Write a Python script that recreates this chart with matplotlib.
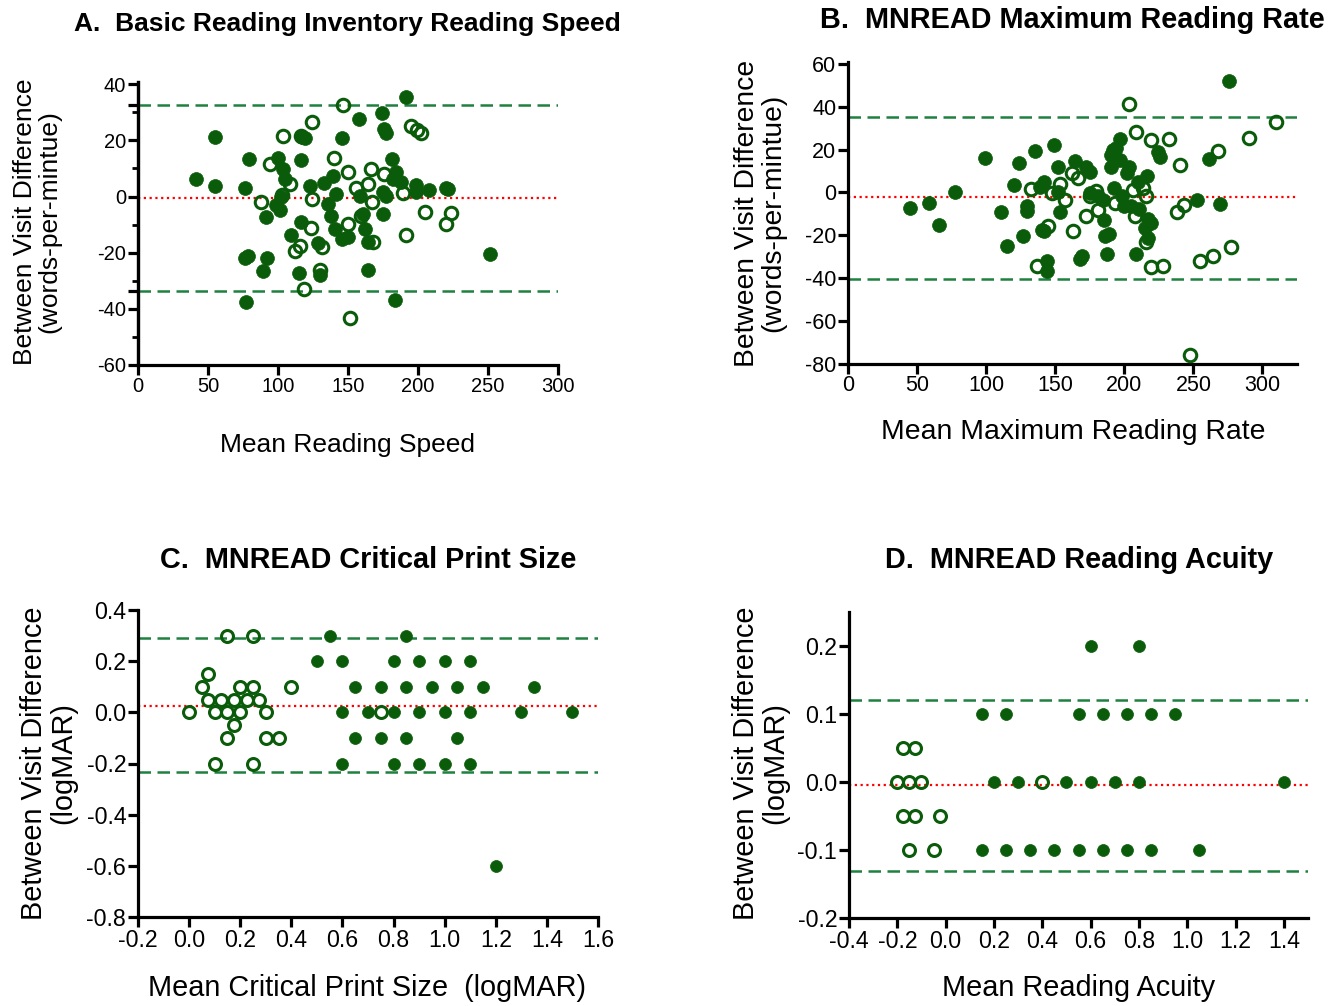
import matplotlib
matplotlib.use("Agg")
import matplotlib.pyplot as plt
import matplotlib.ticker as mticker
import numpy as np

plt.rcParams['font.family'] = ['Liberation Sans', 'DejaVu Sans']
plt.rcParams['axes.unicode_minus'] = False

# ---------------- Data ----------------
# Panel A: Basic Reading Inventory Reading Speed
a_fill_x = [191.2, 174.5, 157.9, 54.8, 117.1, 119.5, 145.7, 175.7, 177.4, 79.0, 100.0, 116.7,
            103.6, 104.8, 41.2, 54.8, 76.7, 122.6, 132.6, 139.3, 141.2, 181.7, 184.5, 182.1,
            188.0, 175.0, 176.9, 198.3, 198.3, 207.9, 220.2, 221.4, 102.4, 98.8, 101.2, 91.7,
            135.7, 158.8, 138.1, 116.7, 140.5, 160.7, 161.9, 145.7, 150.0, 175.0, 109.5, 128.6,
            129.8, 164.3, 76.2, 78.6, 92.1, 89.3, 114.8, 164.3, 77.4, 183.8, 251.2]
a_fill_y = [35.4, 29.6, 27.5, 21.3, 21.3, 21.0, 21.0, 24.0, 22.5, 13.2, 13.9, 13.0,
            9.8, 6.4, 6.1, 3.8, 2.9, 3.8, 4.9, 7.4, 0.8, 13.2, 8.8, 6.4,
            5.2, 1.7, 0.2, 4.0, 1.7, 2.5, 3.1, 2.6, -0.1, -3.1, -4.9, -7.3,
            -2.5, 0.2, -6.9, -9.0, -11.4, -6.1, -11.4, -15.2, -14.4, -6.3, -13.8, -16.4,
            -28.1, -16.2, -21.8, -21.0, -21.8, -26.5, -27.1, -26.1, -37.4, -36.8, -20.4]
a_open_x = [146.4, 124.3, 103.6, 116.2, 194.8, 199.3, 201.9, 139.8, 94.0, 150.0, 166.2, 175.7,
            108.3, 156.0, 164.3, 189.3, 88.1, 124.5, 167.4, 103.0, 204.8, 223.3, 220.2, 150.0,
            123.8, 159.5, 191.7, 167.9, 131.7, 115.9, 112.4, 130.2, 118.6, 151.2]
a_open_y = [32.6, 26.7, 21.7, 21.7, 25.1, 23.7, 22.7, 13.9, 11.5, 8.8, 9.8, 7.9,
            4.3, 3.1, 4.3, 1.1, -2.1, -1.0, -2.1, 0.5, -5.5, -5.8, -9.9, -9.9,
            -11.1, -6.9, -13.6, -16.2, -18.0, -17.7, -19.4, -26.0, -33.1, -43.1]
a_mean, a_upper, a_lower = -0.5, 32.5, -33.5

# Panel B: MNREAD Maximum Reading Rate
b_fill_x = [276.0, 99.3, 77.2, 44.7, 58.4, 66.1, 110.8, 120.4, 124.0, 135.3, 149.3, 138.9,
            142.1, 129.8, 129.3, 114.9, 126.4, 140.1, 142.1, 144.2, 144.2, 151.7, 152.2, 153.8,
            164.2, 172.6, 175.5, 167.8, 169.5, 175.0, 181.0, 184.6, 185.1, 185.8, 188.7, 187.5,
            192.5, 190.6, 190.6, 191.8, 194.2, 196.6, 196.6, 203.1, 202.2, 198.3, 199.8, 205.0,
            210.6, 208.2, 209.9, 216.6, 217.5, 219.0, 214.7, 217.5, 224.3, 225.5, 252.6, 261.1,
            269.2]
b_fill_y = [52.1, 15.9, 0.0, -7.5, -5.0, -15.1, -9.2, 3.3, 13.7, 19.6, 22.2, 2.5,
            4.8, -6.5, -8.9, -25.2, -20.5, -17.4, -17.9, -32.2, -36.9, 12.1, 0.0, -9.2,
            14.9, 12.1, 9.5, -30.9, -29.9, -0.3, -1.9, -3.4, -12.8, -20.5, -19.4, -28.8,
            2.0, 12.1, 17.6, 19.9, 20.7, 24.9, 15.2, 12.1, 9.3, -1.9, -6.5, -6.5,
            -7.6, -28.6, 5.1, 7.5, -12.4, -14.3, -16.6, -21.3, 19.1, 16.8, -3.4, 15.6,
            -5.3]
b_open_x = [203.4, 208.7, 219.0, 232.2, 289.9, 310.1, 267.5, 240.4, 132.2, 147.8, 153.4, 157.0,
            161.8, 166.6, 172.6, 163.0, 144.5, 137.0, 175.0, 179.8, 181.0, 193.0, 206.3, 213.5,
            215.4, 207.9, 215.9, 219.5, 227.9, 238.0, 243.5, 254.8, 263.9, 277.2, 247.8]
b_open_y = [41.2, 28.1, 24.6, 25.0, 25.3, 32.8, 19.6, 12.8, 1.6, -0.3, 4.0, -3.7,
            9.0, 6.7, -11.2, -18.2, -15.9, -34.5, -1.9, 0.8, -8.1, -5.0, 1.2, 2.0,
            -1.9, -11.2, -23.3, -35.0, -34.2, -9.2, -6.1, -32.2, -29.9, -25.7, -76.2]
b_mean, b_upper, b_lower = -2.3, 35.5, -40.4

# Panel C: MNREAD Critical Print Size
c_open_x = [0.15, 0.25, 0.075, 0.05, 0.2, 0.25, 0.4, 0.075, 0.125, 0.175, 0.225, 0.275,
            0.0, 0.1, 0.15, 0.2, 0.3, 0.75, 0.175, 0.15, 0.3, 0.35, 0.1, 0.25]
c_open_y = [0.3, 0.3, 0.15, 0.1, 0.1, 0.1, 0.1, 0.05, 0.05, 0.05, 0.05, 0.05,
            0.0, 0.0, 0.0, 0.0, 0.0, 0.0, -0.05, -0.1, -0.1, -0.1, -0.2, -0.2]
c_fill_x = [0.55, 0.85, 0.5, 0.6, 0.8, 0.9, 1.0, 1.1, 0.65, 0.75, 0.85, 0.95, 1.05, 1.15, 1.35,
            0.6, 0.7, 0.8, 0.9, 1.0, 1.1, 1.3, 1.5, 0.65, 0.75, 0.85, 1.05,
            0.6, 0.8, 0.9, 1.0, 1.1, 1.2]
c_fill_y = [0.3, 0.3, 0.2, 0.2, 0.2, 0.2, 0.2, 0.2, 0.1, 0.1, 0.1, 0.1, 0.1, 0.1, 0.1,
            0.0, 0.0, 0.0, 0.0, 0.0, 0.0, 0.0, 0.0, -0.1, -0.1, -0.1, -0.1,
            -0.2, -0.2, -0.2, -0.2, -0.2, -0.6]
c_mean, c_upper, c_lower = 0.026, 0.289, -0.235

# Panel D: MNREAD Reading Acuity
d_open_x = [-0.175, -0.125, -0.2, -0.15, -0.1, 0.4, -0.175, -0.125, -0.025, -0.15, -0.05]
d_open_y = [0.05, 0.05, 0.0, 0.0, 0.0, 0.0, -0.05, -0.05, -0.05, -0.1, -0.1]
d_fill_x = [0.6, 0.8, 0.15, 0.25, 0.55, 0.65, 0.75, 0.85, 0.95,
            0.2, 0.3, 0.5, 0.6, 0.7, 0.8, 1.4,
            0.15, 0.25, 0.35, 0.45, 0.55, 0.65, 0.75, 0.85, 1.05]
d_fill_y = [0.2, 0.2, 0.1, 0.1, 0.1, 0.1, 0.1, 0.1, 0.1,
            0.0, 0.0, 0.0, 0.0, 0.0, 0.0, 0.0,
            -0.1, -0.1, -0.1, -0.1, -0.1, -0.1, -0.1, -0.1, -0.1]
d_mean, d_upper, d_lower = -0.005, 0.12, -0.131

# ---------------- Style ----------------
W, H = 1336, 1006
fig = plt.figure(figsize=(W / 100, H / 100), dpi=100)
GREEN = '#0a5c0a'
LOA = '#1f8040'


def px_axes(l, t, r, b):
    return fig.add_axes([l / W, 1 - b / H, (r - l) / W, (b - t) / H])


def style(ax, tick_fs):
    for s in ['top', 'right']:
        ax.spines[s].set_visible(False)
    for s in ['left', 'bottom']:
        ax.spines[s].set_linewidth(2.3)
    ax.tick_params(which='major', direction='out', length=7, width=2.3,
                   labelsize=tick_fs, pad=1.5)
    ax.tick_params(which='minor', direction='out', length=4, width=2.0)


def draw(ax, ox, oy, fx, fy, mean, up, lo, ms, ms_open):
    ax.axhline(up, color=LOA, lw=1.8, ls=(0, (5, 2.6)), zorder=1)
    ax.axhline(lo, color=LOA, lw=1.8, ls=(0, (5, 2.6)), zorder=1)
    ax.axhline(mean, color='red', lw=1.6, ls=(0, (1, 1.6)), zorder=1)
    ax.plot(ox, oy, 'o', ls='none', mfc='none', mec=GREEN, mew=2.2,
            ms=ms_open, zorder=3, clip_on=False)
    ax.plot(fx, fy, 'o', ls='none', mfc=GREEN, mec=GREEN, mew=0.5,
            ms=ms, zorder=4, clip_on=False)


def fmt1(v, pos):
    if abs(v) < 1e-9:
        v = 0.0
    return '%.1f' % v


def txt(x, y, s, **kw):
    fig.text(x / W, 1 - y / H, s, ha='center', va='center', **kw)


# Panel A
axA = px_axes(138, 82, 558, 365)
style(axA, 14.5)
draw(axA, a_open_x, a_open_y, a_fill_x, a_fill_y, a_mean, a_upper, a_lower, 10, 9.0)
axA.set_xlim(0, 300)
axA.set_ylim(-60, 40.8)
axA.set_xticks(np.arange(0, 301, 50))
axA.set_yticks(np.arange(-60, 41, 20))
axA.set_yticks(np.arange(-50, 40, 20), minor=True)
secA = axA.secondary_yaxis('left')
secA.set_yticks([a_upper, a_lower])
secA.set_yticklabels([])
secA.spines['left'].set_linewidth(2.3)
secA.tick_params(direction='out', length=7, width=2.3)

# Panel B
axB = px_axes(848, 62, 1297, 363.5)
style(axB, 15.5)
draw(axB, b_open_x, b_open_y, b_fill_x, b_fill_y, b_mean, b_upper, b_lower, 10, 9.0)
axB.set_xlim(0, 325)
axB.set_ylim(-80, 61)
axB.set_xticks(np.arange(0, 301, 50))
axB.set_yticks(np.arange(-80, 61, 20))

# Panel C
axC = px_axes(138, 610, 598, 917)
style(axC, 16.7)
draw(axC, c_open_x, c_open_y, c_fill_x, c_fill_y, c_mean, c_upper, c_lower, 8.6, 8.6)
axC.set_xlim(-0.2, 1.6)
axC.set_ylim(-0.8, 0.4)
axC.set_xticks(np.round(np.arange(-0.2, 1.61, 0.2), 1))
axC.set_yticks(np.round(np.arange(-0.8, 0.41, 0.2), 1))
axC.xaxis.set_major_formatter(mticker.FuncFormatter(fmt1))
axC.yaxis.set_major_formatter(mticker.FuncFormatter(fmt1))

# Panel D
axD = px_axes(849, 612, 1308, 918)
style(axD, 16.7)
draw(axD, d_open_x, d_open_y, d_fill_x, d_fill_y, d_mean, d_upper, d_lower, 8.6, 8.6)
axD.set_xlim(-0.4, 1.5)
axD.set_ylim(-0.2, 0.25)
axD.set_xticks(np.round(np.arange(-0.4, 1.41, 0.2), 1))
axD.set_yticks(np.round(np.arange(-0.2, 0.21, 0.1), 1))
axD.xaxis.set_major_formatter(mticker.FuncFormatter(fmt1))
axD.yaxis.set_major_formatter(mticker.FuncFormatter(fmt1))

# Titles
txt(347, 24, 'A.  Basic Reading Inventory Reading Speed', fontsize=19, fontweight='bold')
txt(1072, 20, 'B.  MNREAD Maximum Reading Rate', fontsize=20.8, fontweight='bold')
txt(368, 560, 'C.  MNREAD Critical Print Size', fontsize=20.8, fontweight='bold')
txt(1079, 560, 'D.  MNREAD Reading Acuity', fontsize=20.8, fontweight='bold')

# X labels
txt(347, 445, 'Mean Reading Speed', fontsize=19)
txt(1073, 432, 'Mean Maximum Reading Rate', fontsize=20.4)
txt(367, 988, 'Mean Critical Print Size  (logMAR)', fontsize=20.8)
txt(1079, 988, 'Mean Reading Acuity', fontsize=20.8)

# Y labels
yl_kw = dict(rotation=90, multialignment='center', linespacing=1.05)
txt(37, 222, 'Between Visit Difference\n(words-per-mintue)', fontsize=19, **yl_kw)
txt(760, 213, 'Between Visit Difference\n(words-per-mintue)', fontsize=20.3, **yl_kw)
txt(49, 763, 'Between Visit Difference\n(logMAR)', fontsize=20.8, **yl_kw)
txt(761, 763, 'Between Visit Difference\n(logMAR)', fontsize=20.8, **yl_kw)

fig.savefig('out.png', dpi=100)
